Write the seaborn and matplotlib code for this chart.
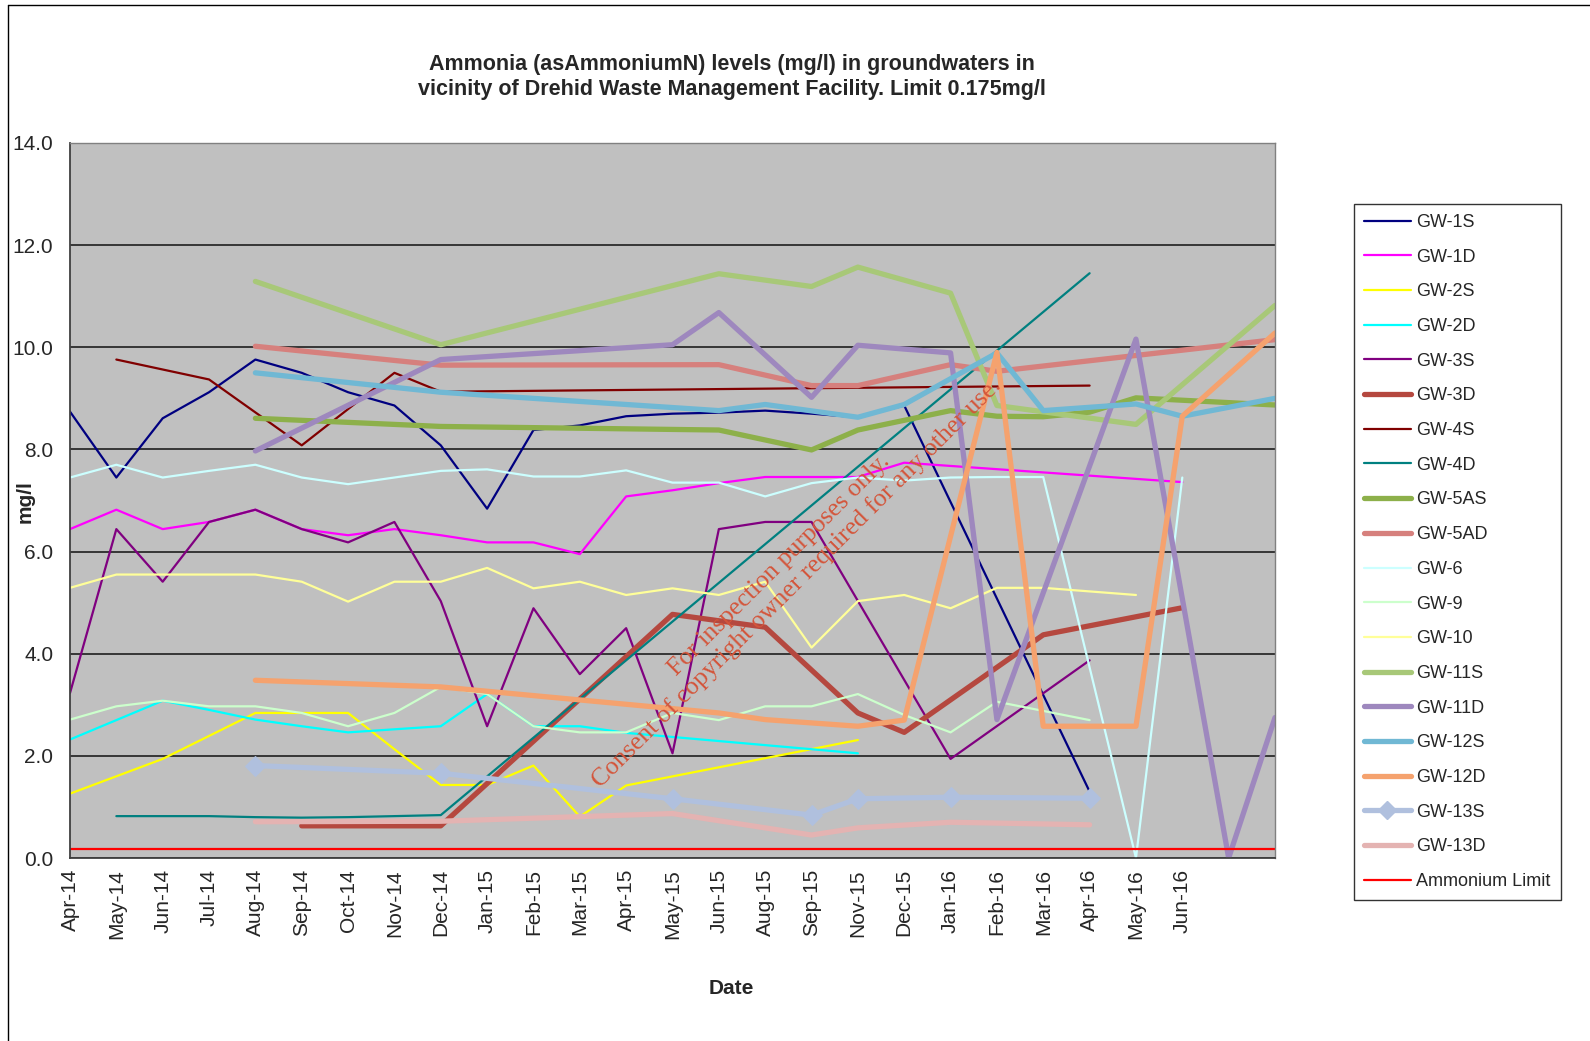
import numpy as np
import pandas as pd
import matplotlib
matplotlib.use("Agg")
import matplotlib.pyplot as plt
from matplotlib.lines import Line2D
import seaborn as sns

N = np.nan

dates = ["Apr-14", "May-14", "Jun-14", "Jul-14", "Aug-14", "Sep-14", "Oct-14", "Nov-14", "Dec-14",
         "Jan-15", "Feb-15", "Mar-15", "Apr-15", "May-15", "Jun-15", "Aug-15", "Sep-15", "Nov-15",
         "Dec-15", "Jan-16", "Feb-16", "Mar-16", "Apr-16", "May-16", "Jun-16", "", ""]

gw_1s = [8.74, 7.45, 8.61, 9.12, 9.76, 9.5, 9.12, 8.86, 8.08, 6.84, 8.38, 8.47, 8.65, 8.7, 8.72, 8.76, 8.7, 8.63,
         8.86, N, N, N, 1.3, N, N, N, N]
gw_1d = [6.44, 6.82, 6.44, 6.58, 6.82, 6.44, 6.32, 6.44, 6.32, 6.18, 6.18, 5.95, 7.08, 7.2, 7.34, 7.46, 7.46, 7.46,
         7.74, N, N, N, N, N, 7.36, N, N]
gw_2s = [1.26, 1.6, 1.94, 2.39, 2.84, 2.84, 2.84, 2.13, 1.43, 1.43, 1.81, 0.81, 1.42, N, N, N, N, 2.31,
         N, N, N, N, N, N, N, N, N]
gw_2d = [2.32, 2.7, 3.08, 2.9, 2.71, 2.58, 2.46, 2.52, 2.58, 3.21, 2.58, 2.58, 2.45, N, N, N, N, 2.05,
         N, N, N, N, N, N, N, N, N]
gw_3s = [3.23, 6.44, 5.41, 6.58, 6.82, 6.44, 6.18, 6.58, 5.03, 2.58, 4.89, 3.6, 4.5, 2.05, 6.44, 6.58, 6.58, N,
         N, 1.94, N, N, 3.87, N, N, N, N]
gw_3d = [N, N, N, N, N, 0.63, 0.63, 0.63, 0.63, N, N, N, N, 4.77, N, 4.52, N, 2.84,
         2.46, N, N, 4.37, N, N, 4.9, N, N]
gw_4s = [N, 9.76, N, 9.37, N, 8.08, N, 9.5, 9.13, N, N, N, N, N, N, N, N, N,
         N, N, N, N, 9.25, N, N, N, N]
gw_4d = [N, 0.82, 0.82, 0.82, 0.8, 0.79, 0.8, 0.82, 0.84, N, N, N, N, N, N, N, N, N,
         N, N, N, N, 11.45, N, N, N, N]
gw_5as = [N, N, N, N, 8.61, N, N, N, 8.45, N, N, N, N, N, 8.38, N, 7.99, 8.38,
          N, 8.76, 8.65, 8.64, 8.73, 9.01, N, N, 8.87]
gw_5ad = [N, N, N, N, 10.02, N, N, N, 9.65, N, N, N, N, N, 9.66, N, 9.25, 9.25,
          N, 9.66, 9.53, N, N, N, N, N, 10.15]
gw_6 = [7.45, 7.7, 7.45, 7.58, 7.7, 7.45, 7.32, 7.45, 7.58, 7.61, 7.47, 7.47, 7.59, 7.35, 7.35, 7.08, 7.34, 7.45,
        7.39, 7.45, 7.46, 7.46, N, 0.0, 7.45, N, N]
gw_9 = [2.71, 2.97, 3.08, 2.97, 2.97, 2.84, 2.58, 2.84, 3.35, 3.21, 2.58, 2.46, 2.46, 2.84, 2.7, 2.97, 2.97, 3.21,
        2.8, 2.46, 3.06, N, 2.7, N, N, N, N]
gw_10 = [5.29, 5.55, 5.55, 5.55, 5.55, 5.41, 5.02, 5.41, 5.41, 5.68, 5.28, 5.41, 5.15, 5.28, 5.15, 5.41, 4.12, 5.03,
         5.15, 4.89, 5.29, 5.29, N, 5.15, N, N, N]
gw_11s = [N, N, N, N, 11.29, N, N, N, 10.05, N, N, N, N, N, 11.44, N, 11.19, 11.57,
          N, 11.06, 8.86, N, N, 8.49, N, N, 10.82]
gw_11d = [N, N, N, N, 7.97, N, N, N, 9.76, N, N, N, N, 10.05, 10.68, N, 9.02, 10.04,
          N, 9.89, 2.71, N, N, 10.16, N, 0.0, 2.75]
gw_12s = [N, N, N, N, 9.5, N, N, N, 9.12, N, N, N, N, N, 8.76, 8.88, N, 8.63,
          8.88, N, 9.89, 8.76, N, 8.89, 8.65, N, 9.0]
gw_12d = [N, N, N, N, 3.48, N, N, N, 3.35, N, N, N, N, N, 2.84, 2.71, N, 2.58,
          2.7, N, 9.9, 2.58, N, 2.58, 8.65, N, 10.28]
gw_13s = [N, N, N, N, 1.81, N, N, N, 1.66, N, N, N, N, 1.16, N, N, 0.84, 1.16,
          N, 1.19, N, N, 1.17, N, N, N, N]
gw_13d = [N, N, N, N, 0.71, N, N, N, 0.72, N, N, N, N, 0.87, N, N, 0.45, 0.59,
          N, 0.7, N, N, 0.65, N, N, N, N]
ammonium_limit = [0.175] * 27

series = [
    ("GW-1S", gw_1s, "#000080", 1.6, None),
    ("GW-1D", gw_1d, "#FF00FF", 1.6, None),
    ("GW-2S", gw_2s, "#FFFF00", 1.6, None),
    ("GW-2D", gw_2d, "#00FFFF", 1.6, None),
    ("GW-3S", gw_3s, "#800080", 1.6, None),
    ("GW-3D", gw_3d, "#B5483F", 3.8, None),
    ("GW-4S", gw_4s, "#800000", 1.6, None),
    ("GW-4D", gw_4d, "#008080", 1.6, None),
    ("GW-5AS", gw_5as, "#8DB04A", 3.8, None),
    ("GW-5AD", gw_5ad, "#D6807D", 3.8, None),
    ("GW-6", gw_6, "#CCFFFF", 1.6, None),
    ("GW-9", gw_9, "#CCFFCC", 1.6, None),
    ("GW-10", gw_10, "#FFFF99", 1.6, None),
    ("GW-11S", gw_11s, "#A8C878", 3.8, None),
    ("GW-11D", gw_11d, "#9E88BE", 3.8, None),
    ("GW-12S", gw_12s, "#70B8D4", 3.8, None),
    ("GW-12D", gw_12d, "#F5A26E", 3.8, None),
    ("GW-13S", gw_13s, "#B0C0DE", 3.8, "D"),
    ("GW-13D", gw_13d, "#E4B3B2", 3.8, None),
    ("Ammonium Limit", ammonium_limit, "#FF0000", 1.6, None),
]

sns.set_style("white")
plt.rcParams["font.family"] = ["Liberation Sans", "DejaVu Sans"]

W, H = 1590, 1041
fig = plt.figure(figsize=(W / 100, H / 100), dpi=100)
fig.patch.set_facecolor("white")
ax = fig.add_axes([70 / W, 1 - 858 / H, (1275 - 70) / W, (858 - 143) / H])
ax.set_facecolor("#C0C0C0")

x_all = np.arange(len(dates))
handles = []
for name, vals, color, lw, marker in series:
    df = pd.DataFrame({"x": x_all, "y": vals}).dropna()
    sns.lineplot(data=df, x="x", y="y", ax=ax, color=color, linewidth=lw,
                 marker=marker if marker else None, markersize=10 if marker else 0,
                 markeredgecolor=color, sort=False, estimator=None, legend=False)
    handles.append(Line2D([0], [0], color=color, lw=lw, marker=marker if marker else None,
                          markersize=9 if marker else 0, markeredgecolor=color))

ax.set_xlim(0, 26)
ax.set_ylim(0, 14)
ax.set_yticks(np.arange(0, 14.1, 2))
ax.set_yticklabels([f"{v:.1f}" for v in np.arange(0, 14.1, 2)], fontsize=15)
ax.set_xticks(x_all)
ax.set_xticklabels(dates, rotation=90, fontsize=15)
ax.yaxis.grid(True, color="#1e1e1e", linewidth=1.2)
ax.xaxis.grid(False)
ax.set_axisbelow(True)
ax.tick_params(axis="y", direction="out", length=4, width=1, color="#404040", pad=8)
ax.tick_params(axis="x", length=0, pad=8)
for s in ["left", "bottom"]:
    ax.spines[s].set_color("#404040")
    ax.spines[s].set_linewidth(1.3)
for s in ["top", "right"]:
    ax.spines[s].set_color("#808080")
    ax.spines[s].set_linewidth(1.0)
ax.set_xlabel("")
ax.set_ylabel("")

fig.text(732 / W, 1 - 77 / H,
         "Ammonia (asAmmoniumN) levels (mg/l) in groundwaters in\nvicinity of Drehid Waste Management Facility. Limit 0.175mg/l",
         ha="center", va="center", fontsize=15.5, fontweight="bold", linespacing=1.2)
fig.text(731 / W, 1 - 988 / H, "Date", ha="center", va="center", fontsize=15, fontweight="bold")
fig.text(25 / W, 1 - 502 / H, "mg/l", ha="center", va="center", rotation=90, fontsize=15, fontweight="bold")

fig.text(788 / W, 1 - 574 / H,
         "For inspection purposes only.\nConsent of copyright owner required for any other use.",
         ha="center", va="center", rotation=45, rotation_mode="anchor", multialignment="center",
         fontsize=18.5, color="#D4553A", family=["Liberation Serif", "DejaVu Serif"], linespacing=1.15)

leg = fig.legend(handles, [s[0] for s in series], loc="upper left",
                 bbox_to_anchor=(1354 / W, 1 - 204 / H), frameon=True, fancybox=False,
                 edgecolor="black", fontsize=13, handlelength=2.6, handletextpad=0.3,
                 labelspacing=0.98, borderpad=0.55, borderaxespad=0)
leg.get_frame().set_linewidth(1.0)

fig.add_artist(Line2D([8 / W, 1], [1 - 5 / H, 1 - 5 / H], transform=fig.transFigure, color="black", lw=1))
fig.add_artist(Line2D([8 / W, 8 / W], [1 - 5 / H, 0], transform=fig.transFigure, color="black", lw=1))

fig.savefig("out.png", dpi=100)
